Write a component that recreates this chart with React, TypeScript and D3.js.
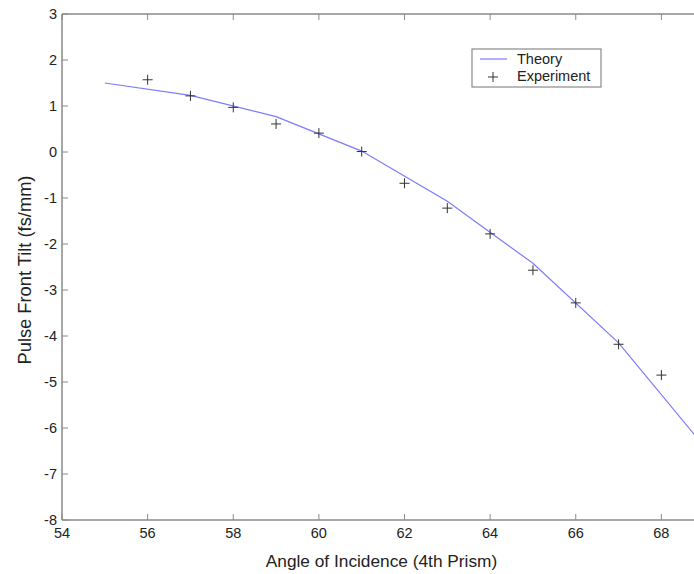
import React from "react";
import * as d3 from "d3";

const theoryX = [55, 57, 59, 61, 63, 65, 67, 69];
const theoryY = [1.5, 1.23, 0.77, 0.02, -1.07, -2.42, -4.15, -6.4];
const expX = [56, 57, 58, 59, 60, 61, 62, 63, 64, 65, 66, 67, 68];
const expY = [1.57, 1.22, 0.97, 0.61, 0.41, 0.01, -0.68, -1.22, -1.78, -2.57, -3.28, -4.18, -4.85];
const xTicks = [54, 56, 58, 60, 62, 64, 66, 68];
const yTicks = [3, 2, 1, 0, -1, -2, -3, -4, -5, -6, -7, -8];

const W = 694, H = 574;
const L = 62, R = 747, T = 14, B = 520;

export default function App() {
  const x = d3.scaleLinear().domain([54, 70]).range([L, R]);
  const y = d3.scaleLinear().domain([-8, 3]).range([B, T]);
  const line = d3.line<number>().x((_, i) => x(theoryX[i])).y((d) => y(d));
  const axisColor = "#8a8a8a";
  const font = "'Liberation Sans', Arial, sans-serif";
  return (
    <svg width={W} height={H} style={{ position: "absolute", left: 0, top: 0, background: "#fff" }}>
      <rect x={0} y={0} width={W} height={H} fill="#fff" />
      <g stroke={axisColor} strokeWidth={1.5} fill="none">
        <line x1={L} y1={T} x2={R} y2={T} />
        <line x1={L} y1={B} x2={R} y2={B} />
        <line x1={L} y1={T} x2={L} y2={B} />
        <line x1={R} y1={T} x2={R} y2={B} />
        {xTicks.map((t) => (
          <g key={"xt" + t}>
            <line x1={x(t)} x2={x(t)} y1={B} y2={B - 6} strokeWidth={1} />
            <line x1={x(t)} x2={x(t)} y1={T} y2={T + 6} strokeWidth={1} />
          </g>
        ))}
        {yTicks.map((t) => (
          <g key={"yt" + t}>
            <line x1={L} x2={L + 6} y1={y(t)} y2={y(t)} strokeWidth={1} />
            <line x1={R} x2={R - 6} y1={y(t)} y2={y(t)} strokeWidth={1} />
          </g>
        ))}
      </g>
      <g fontFamily={font} fontSize={14.5} fill="#222">
        {xTicks.map((t) => (
          <text key={"xl" + t} x={x(t)} y={B + 18} textAnchor="middle">{t}</text>
        ))}
        {yTicks.map((t) => (
          <text key={"yl" + t} x={L - 5} y={y(t) + 5} textAnchor="end">{t}</text>
        ))}
        <text x={381.5} y={567} textAnchor="middle" fontSize={17.3}>Angle of Incidence (4th Prism)</text>
        <text transform={`translate(31,270) rotate(-90)`} textAnchor="middle" fontSize={18.3}>Pulse Front Tilt (fs/mm)</text>
      </g>
      <path d={line(theoryY) || ""} fill="none" stroke="#7b7bff" strokeWidth={1.2} />
      <g stroke="#333" strokeWidth={1}>
        {expY.map((v, i) => (
          <g key={"e" + i}>
            <line x1={x(expX[i]) - 5} x2={x(expX[i]) + 5} y1={y(v)} y2={y(v)} />
            <line x1={x(expX[i])} x2={x(expX[i])} y1={y(v) - 5} y2={y(v) + 5} />
          </g>
        ))}
      </g>
      <g>
        <rect x={472} y={49} width={129} height={38} fill="#fff" stroke={axisColor} strokeWidth={1.2} />
        <line x1={480} x2={507} y1={59} y2={59} stroke="#7b7bff" strokeWidth={1.2} />
        <line x1={488} x2={498} y1={77} y2={77} stroke="#333" />
        <line x1={493} x2={493} y1={72} y2={82} stroke="#333" />
        <text x={517} y={64} fontFamily={font} fontSize={14.5} fill="#222">Theory</text>
        <text x={517} y={81} fontFamily={font} fontSize={14.5} fill="#222">Experiment</text>
      </g>
    </svg>
  );
}
